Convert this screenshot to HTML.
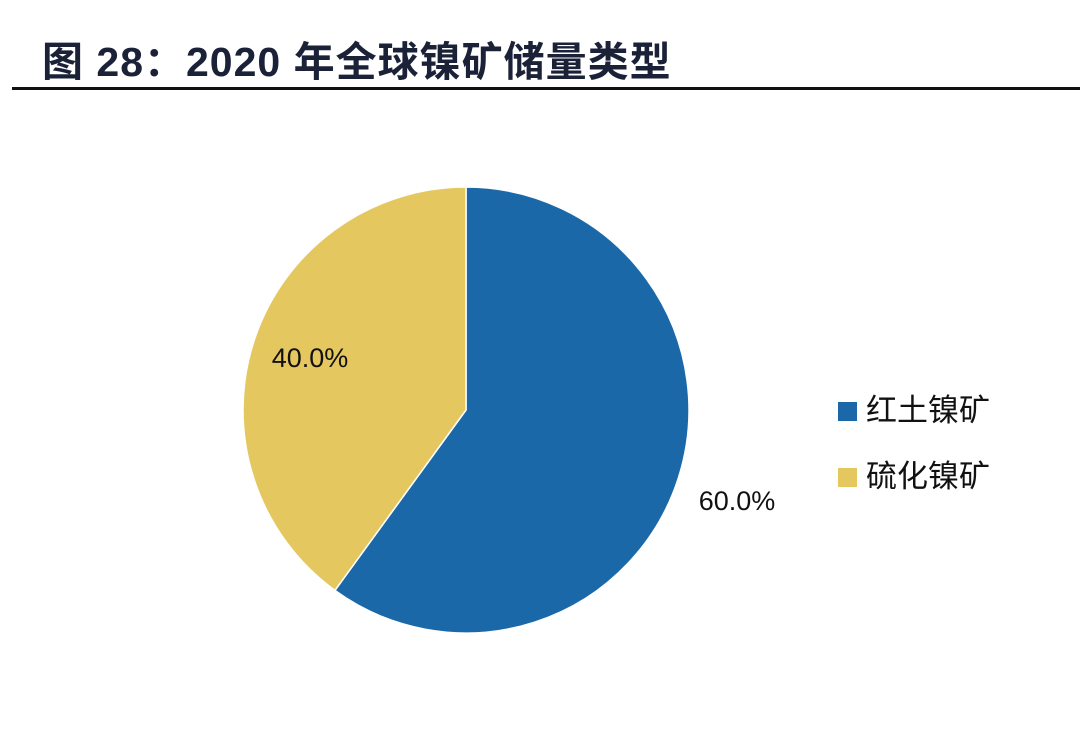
<!DOCTYPE html>
<html><head><meta charset="utf-8"><style>
html,body{margin:0;padding:0;background:#fff;}
body{width:1080px;height:729px;overflow:hidden;position:relative;font-family:"Liberation Sans","Noto Sans CJK SC",sans-serif;}
#title{position:absolute;left:42px;top:28px;font-size:41px;font-weight:bold;color:#1b2238;white-space:nowrap;letter-spacing:1px;}
#rule{position:absolute;left:12px;top:87px;width:1068px;height:3px;background:#111;}
svg{position:absolute;left:0;top:0;}
</style></head><body>
<div id="title">图 28：2020 年全球镍矿储量类型</div>
<div id="rule"></div>
<svg id="chart" width="1080" height="729"></svg>
<script>
const categories = ["红土镍矿", "硫化镍矿"];
const values = [60.0, 40.0];
const valueLabels = ["60.0%", "40.0%"];
const colors = ["#1a68a8", "#e5c760"];
const NS = "http://www.w3.org/2000/svg";
const svg = document.getElementById("chart");
const cx = 466, cy = 410, r = 223;
const total = values.reduce((a,b)=>a+b,0);
function pt(angle, rad){ return [cx + rad*Math.sin(angle), cy - rad*Math.cos(angle)]; }
let start = 0;
const labelPos = [[737, 510], [310, 367]];
values.forEach((v,i)=>{
  const sweep = v/total*2*Math.PI;
  const end = start + sweep;
  const [x1,y1] = pt(start, r), [x2,y2] = pt(end, r);
  const p = document.createElementNS(NS,"path");
  p.setAttribute("d", `M${cx},${cy} L${x1},${y1} A${r},${r} 0 ${sweep>Math.PI?1:0} 1 ${x2},${y2} Z`);
  p.setAttribute("fill", colors[i]);
  p.setAttribute("stroke", "#fff");
  p.setAttribute("stroke-width", "1.5");
  
  
  svg.appendChild(p);
  const t = document.createElementNS(NS,"text");
  t.setAttribute("x", labelPos[i][0]); t.setAttribute("y", labelPos[i][1]);
  t.setAttribute("text-anchor","middle");
  t.setAttribute("font-size","27");
  t.setAttribute("fill","#111");
  t.setAttribute("font-family","Liberation Sans, sans-serif");
  t.textContent = valueLabels[i];
  
  
  svg.appendChild(t);
  start = end;
});
categories.forEach((c,i)=>{
  const y = 402 + i*66;
  const s = document.createElementNS(NS,"rect");
  s.setAttribute("x",838); s.setAttribute("y",y); s.setAttribute("width",19); s.setAttribute("height",19);
  s.setAttribute("fill",colors[i]);
  
  
  svg.appendChild(s);
  const t = document.createElementNS(NS,"text");
  t.setAttribute("x",866); t.setAttribute("y",y+19);
  t.setAttribute("font-size","31");
  t.setAttribute("fill","#111");
  t.setAttribute("font-family","Liberation Sans, Noto Sans CJK SC, sans-serif");
  t.textContent = c;
  
  
  svg.appendChild(t);
});
</script>
</body></html>
